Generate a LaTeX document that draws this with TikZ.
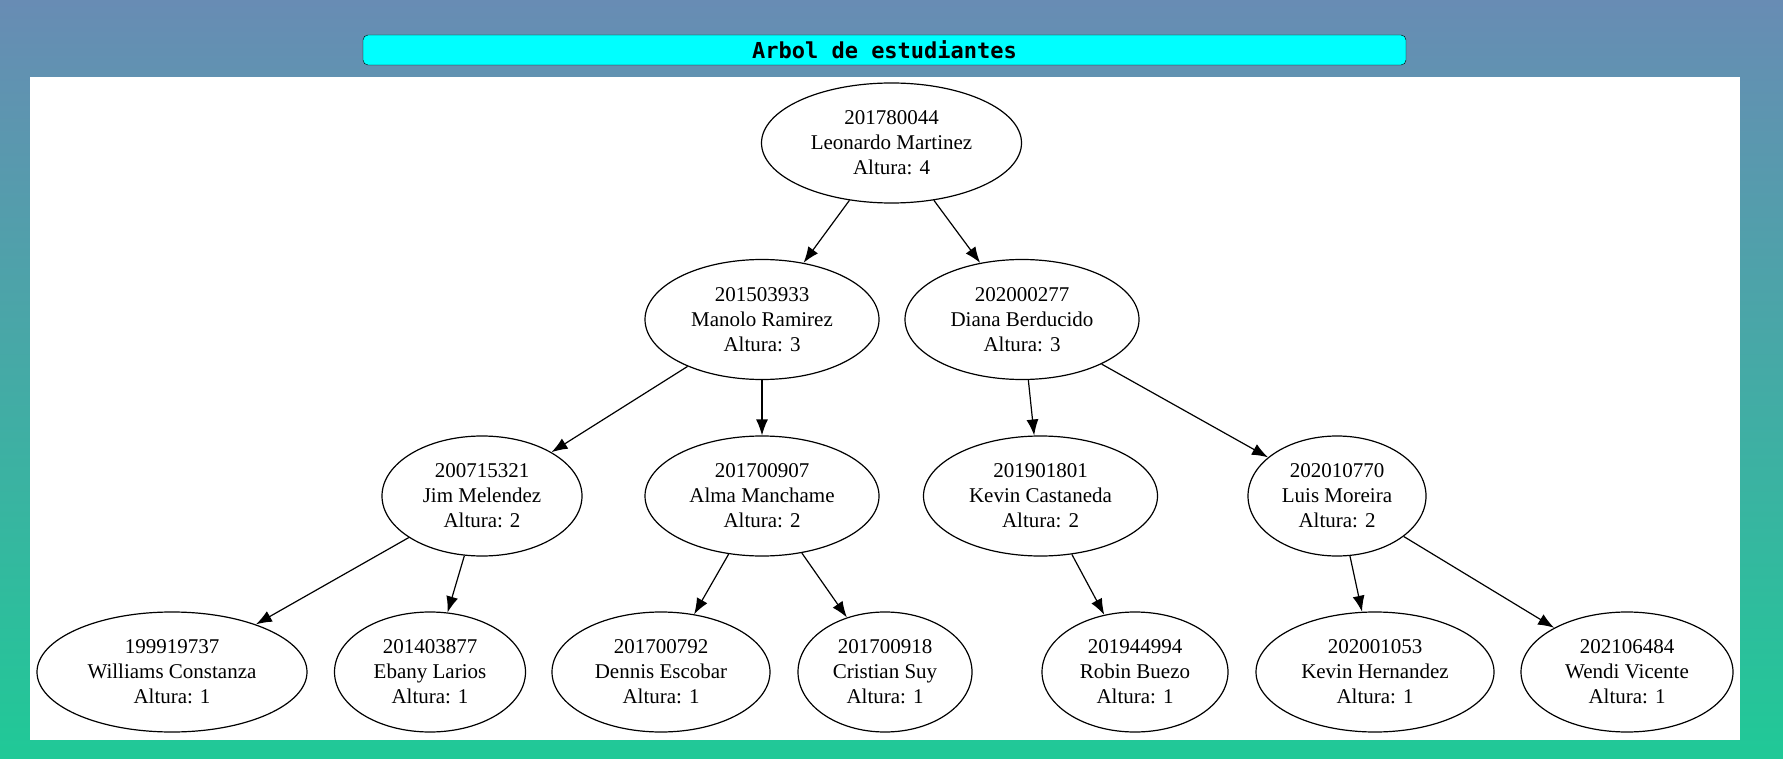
\documentclass[tikz,border=0pt]{standalone}
\usepackage{fontspec}
\setmainfont{Liberation Serif}
\newfontfamily\titlefont{DejaVu Sans Mono}
\usetikzlibrary{shapes.geometric,arrows.meta}
\definecolor{bgtop}{RGB}{104,140,180}
\definecolor{bgbottom}{RGB}{32,201,151}
\definecolor{titulocyan}{RGB}{0,255,255}
\tikzset{
  alumno/.style={draw,ellipse,line width=1.2pt,minimum height=120pt,inner sep=0pt,
    align=center,font=\fontsize{21}{25}\selectfont},
  rama/.style={line width=1.2pt,-{Latex[length=16pt,width=12pt]}}
}
\begin{document}
\begin{tikzpicture}[x=1pt,y=-1pt]
        % fondo
        \shade [top color=bgtop,bottom color=bgbottom] (0,0) rectangle (1783,759);
        \useasboundingbox (0,0) rectangle (1783,759);
        \fill [white] (30,77) rectangle (1740,740);
        % titulo
        \node [draw,fill=titulocyan,rounded corners=5pt,minimum width=1043pt,minimum height=30pt,inner sep=0pt,
          font=\titlefont\bfseries\fontsize{22}{24}\selectfont] (titulo) at (884.5,50) {Arbol de estudiantes};
        % nivel 1
        \node [alumno,minimum width=260pt] (n201780044) at (891.5,143) {201780044\\Leonardo Martinez\\Altura: 4};
        % nivel 2
        \node [alumno,minimum width=234pt] (n201503933) at (762,319.5) {201503933\\Manolo Ramirez\\Altura: 3};
        \node [alumno,minimum width=234pt] (n202000277) at (1022,319.5) {202000277\\Diana Berducido\\Altura: 3};
        % nivel 3
        \node [alumno,minimum width=200pt] (n200715321) at (482,496) {200715321\\Jim Melendez\\Altura: 2};
        \node [alumno,minimum width=234pt] (n201700907) at (762,496) {201700907\\Alma Manchame\\Altura: 2};
        \node [alumno,minimum width=234pt] (n201901801) at (1040.5,496) {201901801\\Kevin Castaneda\\Altura: 2};
        \node [alumno,minimum width=178pt] (n202010770) at (1337,496) {202010770\\Luis Moreira\\Altura: 2};
        % nivel 4
        \node [alumno,minimum width=270pt] (n199919737) at (172,672) {199919737\\Williams Constanza\\Altura: 1};
        \node [alumno,minimum width=191pt] (n201403877) at (430,672) {201403877\\Ebany Larios\\Altura: 1};
        \node [alumno,minimum width=218pt] (n201700792) at (661,672) {201700792\\Dennis Escobar\\Altura: 1};
        \node [alumno,minimum width=174pt] (n201700918) at (885,672) {201700918\\Cristian Suy\\Altura: 1};
        \node [alumno,minimum width=186pt] (n201944994) at (1135,672) {201944994\\Robin Buezo\\Altura: 1};
        \node [alumno,minimum width=238pt] (n202001053) at (1375,672) {202001053\\Kevin Hernandez\\Altura: 1};
        \node [alumno,minimum width=212pt] (n202106484) at (1627,672) {202106484\\Wendi Vicente\\Altura: 1};
        % ramas
        \draw [rama] (n201780044) -- (n201503933);
        \draw [rama] (n201780044) -- (n202000277);
        \draw [rama] (n201503933) -- (n200715321);
        \draw [rama] (n201503933) -- (n201700907);
        \draw [rama] (n202000277) -- (n201901801);
        \draw [rama] (n202000277) -- (n202010770);
        \draw [rama] (n200715321) -- (n199919737);
        \draw [rama] (n200715321) -- (n201403877);
        \draw [rama] (n201700907) -- (n201700792);
        \draw [rama] (n201700907) -- (n201700918);
        \draw [rama] (n201901801) -- (n201944994);
        \draw [rama] (n202010770) -- (n202001053);
        \draw [rama] (n202010770) -- (n202106484);
\end{tikzpicture}
\end{document}
